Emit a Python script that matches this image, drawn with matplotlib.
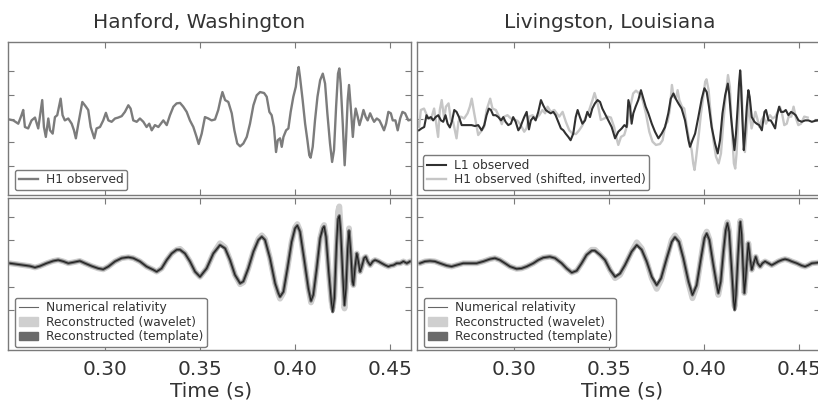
import matplotlib
matplotlib.use("Agg")
import matplotlib.pyplot as plt
from matplotlib.patches import Patch
from matplotlib.lines import Line2D

# ---------------- data (strain in arbitrary units, ticks every 0.5) ----------------
h1_t = [0.2496, 0.2518, 0.2544, 0.2561, 0.2570, 0.2579, 0.2596, 0.2614, 0.2632, 0.2649,
        0.2670, 0.2679, 0.2689, 0.2702, 0.2711, 0.2725, 0.2737, 0.2749, 0.2767, 0.2777,
        0.2789, 0.2807, 0.2825, 0.2837, 0.2847, 0.2860, 0.2881, 0.2900, 0.2912, 0.2925,
        0.2944, 0.2956, 0.2974, 0.2991, 0.3005, 0.3018, 0.3035, 0.3053, 0.3070, 0.3088,
        0.3105, 0.3123, 0.3135, 0.3149, 0.3167, 0.3184, 0.3202, 0.3219, 0.3233, 0.3246,
        0.3263, 0.3281, 0.3298, 0.3307, 0.3325, 0.3342, 0.3360, 0.3377, 0.3395, 0.3412,
        0.3430, 0.3447, 0.3465, 0.3482, 0.3493, 0.3509, 0.3526, 0.3544, 0.3561, 0.3579,
        0.3596, 0.3609, 0.3618, 0.3632, 0.3649, 0.3667, 0.3681, 0.3696, 0.3711, 0.3728,
        0.3746, 0.3763, 0.3781, 0.3798, 0.3816, 0.3837, 0.3851, 0.3865, 0.3877, 0.3889,
        0.3900, 0.3909, 0.3921, 0.3930, 0.3939, 0.3953, 0.3965, 0.3977, 0.3991, 0.4004,
        0.4012, 0.4019, 0.4026, 0.4040, 0.4053, 0.4065, 0.4075, 0.4082, 0.4093, 0.4105,
        0.4118, 0.4132, 0.4146, 0.4158, 0.4170, 0.4184, 0.4195, 0.4205, 0.4216, 0.4226,
        0.4233, 0.4240, 0.4251, 0.4261, 0.4268, 0.4277, 0.4284, 0.4293, 0.4304, 0.4311,
        0.4319, 0.4330, 0.4339, 0.4349, 0.4360, 0.4372, 0.4382, 0.4395, 0.4407, 0.4416,
        0.4430, 0.4444, 0.4456, 0.4468, 0.4479, 0.4491, 0.4504, 0.4514, 0.4528, 0.4540,
        0.4553, 0.4565, 0.4579, 0.4596, 0.4614]
h1_v = [-0.02, -0.04, -0.11, 0.07, 0.18, -0.18, -0.21, -0.04, 0.02, -0.21,
        0.39, -0.18, -0.39, 0.00, -0.25, -0.32, 0.03, 0.07, 0.42, 0.07,
        -0.04, 0.00, -0.11, -0.25, -0.42, -0.11, 0.35, 0.25, 0.18, -0.18,
        -0.42, -0.21, -0.18, -0.04, 0.12, -0.04, -0.07, 0.00, 0.02, 0.05,
        0.14, 0.28, 0.21, -0.04, -0.07, 0.00, -0.07, -0.18, -0.11, -0.25,
        -0.14, -0.18, -0.09, -0.04, -0.14, 0.07, 0.25, 0.32, 0.33, 0.25,
        0.14, -0.04, -0.18, -0.39, -0.54, -0.32, 0.03, 0.00, -0.04, -0.02,
        0.18, 0.42, 0.56, 0.39, 0.35, 0.11, -0.25, -0.53, -0.59, -0.53,
        -0.39, -0.11, 0.28, 0.49, 0.56, 0.54, 0.46, 0.14, 0.07, -0.18,
        -0.71, -0.46, -0.42, -0.60, -0.39, -0.25, -0.21, 0.14, 0.46, 0.67,
        0.95, 1.09, 0.88, 0.39, -0.11, -0.46, -0.78, -0.83, -0.60, -0.04,
        0.46, 0.81, 0.95, 0.74, 0.11, -0.53, -0.92, -0.67, 0.25, 0.95,
        1.06, 0.74, -0.11, -0.99, -0.46, 0.39, 0.71, 0.25, -0.39, -0.04,
        0.21, 0.03, -0.14, 0.00, 0.18, 0.03, -0.04, 0.11, 0.00, -0.07,
        0.00, -0.04, -0.14, -0.25, -0.11, 0.14, 0.11, -0.04, -0.04, -0.25,
        0.00, 0.14, 0.11, -0.04, -0.02]

# H1 observed, shifted (by -6.9 ms) and inverted, as drawn in the Livingston panel
h1s_t = [0.2427, 0.2449, 0.2475, 0.2492, 0.2501, 0.2510, 0.2527, 0.2545, 0.2563, 0.2580,
         0.2601, 0.2610, 0.2620, 0.2633, 0.2642, 0.2656, 0.2668, 0.2680, 0.2698, 0.2708,
         0.2720, 0.2738, 0.2756, 0.2768, 0.2778, 0.2791, 0.2812, 0.2831, 0.2843, 0.2856,
         0.2875, 0.2887, 0.2905, 0.2922, 0.2936, 0.2949, 0.2966, 0.2984, 0.3001, 0.3019,
         0.3036, 0.3054, 0.3066, 0.3080, 0.3098, 0.3115, 0.3133, 0.3150, 0.3164, 0.3177,
         0.3194, 0.3212, 0.3229, 0.3238, 0.3256, 0.3273, 0.3291, 0.3308, 0.3326, 0.3343,
         0.3361, 0.3378, 0.3396, 0.3413, 0.3424, 0.3440, 0.3457, 0.3475, 0.3492, 0.3510,
         0.3527, 0.3540, 0.3549, 0.3563, 0.3580, 0.3598, 0.3612, 0.3627, 0.3642, 0.3659,
         0.3677, 0.3694, 0.3712, 0.3729, 0.3747, 0.3768, 0.3782, 0.3796, 0.3808, 0.3820,
         0.3831, 0.3840, 0.3852, 0.3861, 0.3870, 0.3884, 0.3896, 0.3908, 0.3922, 0.3935,
         0.3943, 0.3950, 0.3957, 0.3971, 0.3984, 0.3996, 0.4006, 0.4013, 0.4024, 0.4036,
         0.4049, 0.4063, 0.4077, 0.4089, 0.4101, 0.4115, 0.4126, 0.4136, 0.4147, 0.4157,
         0.4164, 0.4171, 0.4182, 0.4192, 0.4199, 0.4208, 0.4215, 0.4224, 0.4235, 0.4242,
         0.4250, 0.4261, 0.4270, 0.4280, 0.4291, 0.4303, 0.4313, 0.4326, 0.4338, 0.4347,
         0.4361, 0.4375, 0.4387, 0.4399, 0.4410, 0.4422, 0.4435, 0.4445, 0.4459, 0.4471,
         0.4484, 0.4496, 0.4510, 0.4527, 0.4545]
h1s_v = [0.02, 0.04, 0.11, -0.07, -0.18, 0.18, 0.21, 0.04, -0.02, 0.21,
         -0.39, 0.18, 0.39, 0.00, 0.25, 0.32, -0.03, -0.07, -0.42, -0.07,
         0.04, 0.00, 0.11, 0.25, 0.42, 0.11, -0.35, -0.25, -0.18, 0.18,
         0.42, 0.21, 0.18, 0.04, -0.12, 0.04, 0.07, 0.00, -0.02, -0.05,
         -0.14, -0.28, -0.21, 0.04, 0.07, 0.00, 0.07, 0.18, 0.11, 0.25,
         0.14, 0.18, 0.09, 0.04, 0.14, -0.07, -0.25, -0.32, -0.33, -0.25,
         -0.14, 0.04, 0.18, 0.39, 0.54, 0.32, -0.03, 0.00, 0.04, 0.02,
         -0.18, -0.42, -0.56, -0.39, -0.35, -0.11, 0.25, 0.53, 0.59, 0.53,
         0.39, 0.11, -0.28, -0.49, -0.56, -0.54, -0.46, -0.14, -0.07, 0.18,
         0.71, 0.46, 0.42, 0.60, 0.39, 0.25, 0.21, -0.14, -0.46, -0.67,
         -0.95, -1.09, -0.88, -0.39, 0.11, 0.46, 0.78, 0.83, 0.60, 0.04,
         -0.46, -0.81, -0.95, -0.74, -0.11, 0.53, 0.92, 0.67, -0.25, -0.95,
         -1.06, -0.74, 0.11, 0.99, 0.46, -0.39, -0.71, -0.25, 0.39, 0.04,
         -0.21, -0.03, 0.14, 0.00, -0.18, -0.03, 0.04, -0.11, 0.00, 0.07,
         0.00, 0.04, 0.14, 0.25, 0.11, -0.14, -0.11, 0.04, 0.04, 0.25,
         0.00, -0.14, -0.11, 0.04, 0.02]

l1_t = [0.2500, 0.2514, 0.2528, 0.2540, 0.2549, 0.2563, 0.2575, 0.2588, 0.2602, 0.2616,
        0.2628, 0.2640, 0.2651, 0.2663, 0.2675, 0.2686, 0.2698, 0.2711, 0.2725, 0.2742,
        0.2760, 0.2777, 0.2795, 0.2812, 0.2830, 0.2844, 0.2856, 0.2868, 0.2879, 0.2891,
        0.2904, 0.2918, 0.2932, 0.2944, 0.2956, 0.2970, 0.2984, 0.2996, 0.3009, 0.3023,
        0.3033, 0.3044, 0.3054, 0.3067, 0.3079, 0.3089, 0.3102, 0.3114, 0.3128, 0.3142,
        0.3154, 0.3167, 0.3181, 0.3193, 0.3207, 0.3219, 0.3233, 0.3247, 0.3260, 0.3272,
        0.3286, 0.3298, 0.3312, 0.3325, 0.3335, 0.3347, 0.3360, 0.3374, 0.3386, 0.3400,
        0.3412, 0.3426, 0.3440, 0.3453, 0.3465, 0.3479, 0.3497, 0.3514, 0.3532, 0.3549,
        0.3567, 0.3581, 0.3593, 0.3602, 0.3611, 0.3619, 0.3628, 0.3640, 0.3654, 0.3668,
        0.3681, 0.3693, 0.3707, 0.3725, 0.3742, 0.3760, 0.3777, 0.3795, 0.3812, 0.3825,
        0.3839, 0.3851, 0.3865, 0.3882, 0.3900, 0.3918, 0.3926, 0.3939, 0.3953, 0.3970,
        0.3988, 0.4002, 0.4014, 0.4026, 0.4040, 0.4058, 0.4072, 0.4084, 0.4097, 0.4111,
        0.4125, 0.4132, 0.4142, 0.4153, 0.4160, 0.4168, 0.4177, 0.4184, 0.4190, 0.4195,
        0.4202, 0.4209, 0.4216, 0.4225, 0.4233, 0.4240, 0.4251, 0.4265, 0.4277, 0.4290,
        0.4304, 0.4318, 0.4326, 0.4339, 0.4351, 0.4361, 0.4374, 0.4384, 0.4395, 0.4405,
        0.4418, 0.4430, 0.4444, 0.4458, 0.4470, 0.4482, 0.4497, 0.4514, 0.4532, 0.4549,
        0.4567, 0.4584, 0.4602]
l1_v = [-0.25, -0.21, -0.18, 0.07, 0.00, 0.03, -0.04, 0.03, 0.07, -0.04,
        -0.07, 0.07, -0.11, -0.19, -0.04, 0.18, 0.14, 0.03, -0.14, -0.14,
        -0.14, -0.14, -0.16, -0.14, -0.25, -0.14, 0.07, 0.21, 0.18, 0.07,
        0.07, 0.03, -0.04, 0.03, -0.07, -0.14, -0.11, 0.03, -0.07, -0.25,
        -0.19, -0.07, 0.03, 0.14, -0.23, -0.04, 0.03, -0.04, 0.14, 0.39,
        0.28, 0.18, 0.14, 0.11, 0.14, 0.07, -0.07, -0.21, -0.25, -0.32,
        -0.39, -0.46, -0.32, 0.03, 0.18, 0.03, -0.11, -0.04, 0.14, 0.03,
        0.21, 0.32, 0.39, 0.35, 0.21, 0.10, -0.04, -0.18, -0.42, -0.28,
        -0.21, -0.14, -0.18, 0.39, 0.25, -0.11, 0.11, 0.25, 0.39, 0.60,
        0.42, 0.25, 0.11, -0.11, -0.28, -0.42, -0.32, -0.18, 0.11, 0.42,
        0.53, 0.42, 0.32, 0.21, -0.04, -0.46, -0.60, -0.46, -0.32, 0.03,
        0.42, 0.64, 0.56, 0.25, -0.18, -0.53, -0.74, -0.46, 0.11, 0.49,
        0.74, 0.53, 0.03, -0.39, -0.67, -0.32, 0.25, 0.74, 1.02, 0.67,
        -0.04, -0.67, -0.32, 0.25, 0.60, 0.46, 0.03, -0.07, -0.11, -0.14,
        -0.25, 0.14, 0.18, -0.04, -0.04, -0.11, -0.21, 0.07, 0.25, 0.14,
        0.14, 0.18, 0.07, 0.14, 0.11, 0.07, -0.04, -0.07, -0.04, -0.04,
        -0.07, -0.05, -0.04]

# Hanford reconstructions
bl_t = [0.2500, 0.2535, 0.2570, 0.2605, 0.2632, 0.2658, 0.2693, 0.2728, 0.2754, 0.2781,
        0.2807, 0.2833, 0.2868, 0.2895, 0.2930, 0.2965, 0.2991, 0.3018, 0.3053, 0.3088,
        0.3123, 0.3149, 0.3184, 0.3219, 0.3254, 0.3272, 0.3298, 0.3325, 0.3351, 0.3377,
        0.3395, 0.3421, 0.3447, 0.3474, 0.3500, 0.3535, 0.3570, 0.3605, 0.3632, 0.3658,
        0.3684, 0.3711, 0.3728, 0.3754, 0.3781, 0.3807, 0.3825, 0.3842, 0.3868, 0.3895,
        0.3912, 0.3921, 0.3939, 0.3960, 0.3982, 0.4000, 0.4012, 0.4026, 0.4047, 0.4070,
        0.4084, 0.4096, 0.4114, 0.4132, 0.4146, 0.4153, 0.4163, 0.4177, 0.4191, 0.4198,
        0.4207, 0.4218, 0.4226, 0.4233, 0.4240, 0.4251, 0.4260, 0.4268, 0.4277, 0.4284,
        0.4293, 0.4302, 0.4307, 0.4316, 0.4325, 0.4333, 0.4342, 0.4351, 0.4363, 0.4372,
        0.4382, 0.4395, 0.4409, 0.4421, 0.4439, 0.4456, 0.4474, 0.4491, 0.4504, 0.4518,
        0.4535, 0.4553, 0.4570, 0.4588, 0.4605]
bl_nr = [0.00, -0.02, -0.04, -0.06, -0.09, -0.06, 0.00, 0.05, 0.07, 0.04,
         0.00, 0.02, 0.05, 0.00, -0.06, -0.11, -0.13, -0.07, 0.04, 0.11,
         0.13, 0.11, 0.04, -0.07, -0.14, -0.18, -0.11, 0.07, 0.21, 0.29,
         0.29, 0.21, 0.04, -0.18, -0.29, -0.11, 0.21, 0.39, 0.32, 0.07,
         -0.25, -0.43, -0.39, -0.11, 0.25, 0.50, 0.57, 0.50, 0.11, -0.43,
         -0.64, -0.72, -0.61, -0.11, 0.46, 0.75, 0.81, 0.68, 0.11, -0.54,
         -0.81, -0.68, -0.11, 0.54, 0.75, 0.79, 0.57, -0.18, -0.82, -1.04,
         -0.75, 0.39, 0.95, 1.02, 0.70, -0.25, -0.90, -0.54, 0.32, 0.70,
         0.25, -0.39, -0.47, -0.07, 0.21, 0.04, -0.18, -0.07, 0.11, 0.14,
         0.04, -0.04, 0.04, 0.07, 0.04, 0.00, -0.04, -0.07, -0.05, -0.04,
         0.00, 0.00, 0.04, 0.00, 0.04]
bl_wavelet = [0.00, -0.02, -0.04, -0.06, -0.09, -0.06, 0.00, 0.05, 0.07, 0.04,
              0.00, 0.02, 0.05, 0.00, -0.06, -0.11, -0.13, -0.07, 0.04, 0.11,
              0.13, 0.11, 0.04, -0.07, -0.14, -0.18, -0.11, 0.07, 0.21, 0.29,
              0.31, 0.21, 0.04, -0.18, -0.29, -0.11, 0.21, 0.43, 0.34, 0.07,
              -0.25, -0.45, -0.41, -0.11, 0.25, 0.52, 0.60, 0.52, 0.11, -0.43,
              -0.66, -0.76, -0.63, -0.11, 0.46, 0.77, 0.84, 0.70, 0.11, -0.54,
              -0.84, -0.70, -0.11, 0.54, 0.77, 0.82, 0.57, -0.18, -0.80, -0.97,
              -0.70, 0.39, 1.11, 1.22, 0.75, -0.25, -0.97, -0.54, 0.32, 0.75,
              0.25, -0.39, -0.47, -0.07, 0.21, 0.04, -0.18, -0.07, 0.11, 0.14,
              0.04, -0.04, 0.04, 0.07, 0.04, 0.00, -0.04, -0.07, -0.05, -0.04,
              0.00, 0.00, 0.04, 0.00, 0.04]
bl_template = bl_nr  # indistinguishable from the NR curve at this resolution

# Livingston reconstructions
br_t = [0.2505, 0.2532, 0.2558, 0.2584, 0.2611, 0.2646, 0.2672, 0.2698, 0.2733, 0.2768,
        0.2804, 0.2839, 0.2874, 0.2900, 0.2926, 0.2953, 0.2979, 0.3014, 0.3040, 0.3067,
        0.3102, 0.3128, 0.3154, 0.3189, 0.3216, 0.3251, 0.3277, 0.3304, 0.3330, 0.3356,
        0.3382, 0.3409, 0.3426, 0.3453, 0.3479, 0.3505, 0.3532, 0.3558, 0.3584, 0.3619,
        0.3646, 0.3672, 0.3698, 0.3725, 0.3751, 0.3774, 0.3804, 0.3830, 0.3847, 0.3868,
        0.3891, 0.3918, 0.3939, 0.3961, 0.3984, 0.4002, 0.4014, 0.4028, 0.4049, 0.4067,
        0.4075, 0.4088, 0.4102, 0.4114, 0.4123, 0.4132, 0.4146, 0.4156, 0.4161, 0.4168,
        0.4179, 0.4188, 0.4191, 0.4198, 0.4205, 0.4212, 0.4219, 0.4228, 0.4233, 0.4242,
        0.4251, 0.4261, 0.4272, 0.4282, 0.4295, 0.4307, 0.4321, 0.4339, 0.4356, 0.4374,
        0.4391, 0.4409, 0.4426, 0.4444, 0.4461, 0.4488, 0.4514, 0.4532, 0.4549, 0.4567,
        0.4593, 0.4610]
br_nr = [0.00, 0.04, 0.05, 0.04, 0.00, -0.05, -0.07, -0.04, 0.00, 0.00,
         0.00, 0.04, 0.09, 0.11, 0.07, 0.00, -0.07, -0.12, -0.11, -0.07,
         0.00, 0.07, 0.12, 0.14, 0.11, 0.00, -0.11, -0.20, -0.16, 0.00,
         0.18, 0.27, 0.27, 0.18, 0.07, -0.14, -0.29, -0.22, -0.04, 0.25,
         0.39, 0.29, 0.04, -0.29, -0.47, -0.32, 0.11, 0.46, 0.56, 0.46,
         0.11, -0.39, -0.68, -0.47, 0.11, 0.54, 0.64, 0.50, -0.04, -0.47,
         -0.64, -0.39, 0.25, 0.71, 0.86, 0.68, -0.18, -0.82, -1.00, -0.68,
         0.18, 0.79, 0.89, 0.61, -0.04, -0.64, -0.32, 0.18, 0.43, 0.11,
         -0.14, 0.00, 0.14, 0.00, -0.07, 0.00, 0.04, 0.00, -0.04, 0.00,
         0.04, 0.07, 0.09, 0.07, 0.04, 0.00, -0.05, -0.07, -0.04, 0.00,
         0.01, 0.02]
br_wavelet = [0.00, 0.04, 0.05, 0.04, 0.00, -0.05, -0.07, -0.04, 0.00, 0.00,
              0.00, 0.04, 0.09, 0.11, 0.07, 0.00, -0.07, -0.12, -0.11, -0.07,
              0.00, 0.07, 0.12, 0.14, 0.11, 0.00, -0.11, -0.20, -0.16, 0.00,
              0.18, 0.29, 0.29, 0.18, 0.07, -0.14, -0.32, -0.25, -0.04, 0.25,
              0.45, 0.32, 0.04, -0.32, -0.55, -0.36, 0.11, 0.50, 0.60, 0.48,
              0.11, -0.43, -0.75, -0.50, 0.11, 0.58, 0.68, 0.52, -0.04, -0.50,
              -0.68, -0.41, 0.25, 0.74, 0.88, 0.70, -0.18, -0.78, -0.93, -0.64,
              0.18, 0.82, 0.91, 0.63, -0.04, -0.64, -0.32, 0.18, 0.43, 0.11,
              -0.14, 0.00, 0.14, 0.00, -0.07, 0.00, 0.04, 0.00, -0.04, 0.00,
              0.04, 0.07, 0.09, 0.07, 0.04, 0.00, -0.05, -0.07, -0.04, 0.00,
              0.01, 0.02]
br_template = br_nr

titles = ["Hanford, Washington", "Livingston, Louisiana"]
xticks = [0.30, 0.35, 0.40, 0.45]
xticklabels = ["0.30", "0.35", "0.40", "0.45"]
yticks = [-1.0, -0.5, 0.0, 0.5, 1.0]
xlabel = "Time (s)"

# ---------------- layout / style ----------------
W, H = 818, 400
fig = plt.figure(figsize=(W / 100, H / 100), dpi=100)
fig.patch.set_facecolor("white")

def px_axes(x0, y0, x1, y1):
    return fig.add_axes([x0 / W, 1 - y1 / H, (x1 - x0) / W, (y1 - y0) / H])

ax_tl = px_axes(8, 42, 411, 195)
ax_tr = px_axes(417, 42, 820, 195)
ax_bl = px_axes(8, 198, 411, 350)
ax_br = px_axes(417, 198, 820, 350)

SPINE = "#7a7a7a"
TXT = "#333333"
C_H1 = "#7c7c7c"
C_H1S = "#c6c6c6"
C_L1 = "#303030"
C_WAV = "#cfcfcf"
C_TMP = "#6e6e6e"
C_NR = "#1e1e1e"

for ax, bottom in [(ax_tl, False), (ax_tr, False), (ax_bl, True), (ax_br, True)]:
    ax.set_xlim(0.249, 0.461)
    ax.set_xticks(xticks)
    ax.set_yticks(yticks)
    if bottom:
        ax.set_ylim(-1.86, 1.40)
        ax.set_xticklabels(xticklabels)
    ax.tick_params(axis="both", direction="in", top=True, right=True, length=4,
                   width=0.8, colors=SPINE, labelleft=False, labelbottom=bottom,
                   labelcolor=TXT, labelsize=14.5, pad=7)
    for s in ax.spines.values():
        s.set_color(SPINE)
        s.set_linewidth(1.0)
for ax in (ax_tl, ax_tr):
    ax.set_ylim(-1.62, 1.62)

leg_kw = dict(loc="lower left", borderaxespad=0, fontsize=8.8, handlelength=1.6,
              handletextpad=0.6, borderpad=0.3, labelspacing=0.12, frameon=True,
              fancybox=True, edgecolor=SPINE, framealpha=1)

# top-left
ax_tl.plot(h1_t, h1_v, color=C_H1, lw=1.7, label="H1 observed")
lg = ax_tl.legend(bbox_to_anchor=(7 / 403, 5 / 153), **leg_kw)
for t in lg.get_texts():
    t.set_color(TXT)

# top-right
ax_tr.plot(h1s_t, h1s_v, color=C_H1S, lw=1.7, label="H1 observed (shifted, inverted)")
ax_tr.plot(l1_t, l1_v, color=C_L1, lw=1.5, label="L1 observed")
h, l = ax_tr.get_legend_handles_labels()
lg = ax_tr.legend(h[::-1], l[::-1], bbox_to_anchor=(6 / 403, 5 / 153), **leg_kw)
for t in lg.get_texts():
    t.set_color(TXT)

# bottom panels
for ax, t, wav, tmp, nr in [(ax_bl, bl_t, bl_wavelet, bl_template, bl_nr),
                            (ax_br, br_t, br_wavelet, br_template, br_nr)]:
    ax.plot(t, wav, color=C_WAV, lw=4.2, solid_capstyle="round", solid_joinstyle="round")
    ax.plot(t, tmp, color=C_TMP, lw=2.3, solid_capstyle="round", solid_joinstyle="round")
    ax.plot(t, nr, color=C_NR, lw=0.8)
    handles = [Line2D([], [], color="#666666", lw=0.8),
               Patch(facecolor=C_WAV, edgecolor=C_WAV),
               Patch(facecolor="#6a6a6a", edgecolor="#6a6a6a")]
    labels = ["Numerical relativity", "Reconstructed (wavelet)", "Reconstructed (template)"]
    lg = ax.legend(handles, labels, bbox_to_anchor=(7 / 403, 3 / 152), **leg_kw)
    for tx in lg.get_texts():
        tx.set_color(TXT)

# titles and x labels
fig.text(199 / W, 1 - 22 / H, titles[0], ha="center", va="center", fontsize=14.5, color=TXT)
fig.text(610 / W, 1 - 22 / H, titles[1], ha="center", va="center", fontsize=14.5, color=TXT)
fig.text(211 / W, 1 - 391 / H, xlabel, ha="center", va="center", fontsize=14.5, color=TXT)
fig.text(622 / W, 1 - 391 / H, xlabel, ha="center", va="center", fontsize=14.5, color=TXT)

fig.savefig("out.png", dpi=100, facecolor="white")
